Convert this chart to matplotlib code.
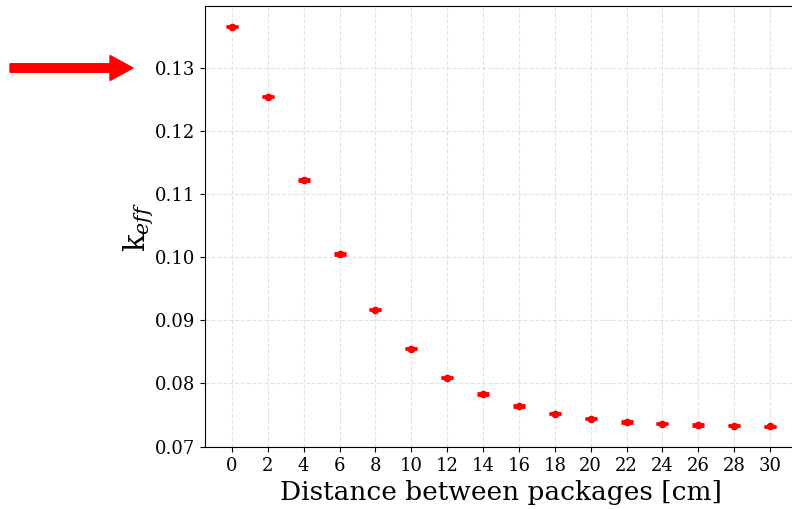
import matplotlib
matplotlib.use("Agg")
import matplotlib.pyplot as plt
from matplotlib.patches import FancyArrow

plt.rcParams['font.family'] = 'DejaVu Serif'
plt.rcParams['mathtext.fontset'] = 'dejavuserif'

distancia = [0, 2, 4, 6, 8, 10, 12, 14, 16, 18, 20, 22, 24, 26, 28, 30]
keff = [0.1365, 0.1254, 0.1122, 0.1005, 0.0917, 0.0855, 0.0809, 0.0783,
        0.0764, 0.0752, 0.0744, 0.0739, 0.0736, 0.0734, 0.0733, 0.0732]
error = [0.0001] * len(keff)

fig = plt.figure(figsize=(7.92, 5.09), dpi=100)
ax = fig.add_axes([205 / 792, 62 / 509, 592 / 792, 441 / 509])

ax.errorbar(distancia, keff, yerr=error, fmt='o', color='red', markersize=4.5,
            capsize=4, capthick=2, elinewidth=1.5)

ax.set_xticks(distancia)
ax.tick_params(labelsize=13)
ax.set_xlabel("Distance between packages [cm]", fontsize=19, labelpad=4)
ax.set_ylabel(r"$\mathrm{k}_{eff}$", fontsize=21, labelpad=-1)
ax.grid(True, linestyle='--', color='#dddddd', alpha=0.8)
ax.set_axisbelow(True)
ax.spines['right'].set_visible(False)

# flecha roja a la izquierda del eje
flecha = FancyArrow(0.1, 4.41, 1.0, 0.0, width=0.085, head_width=0.25,
                    head_length=0.23, color='red', transform=fig.dpi_scale_trans,
                    length_includes_head=False)
fig.add_artist(flecha)

fig.savefig("out.png", dpi=100)
